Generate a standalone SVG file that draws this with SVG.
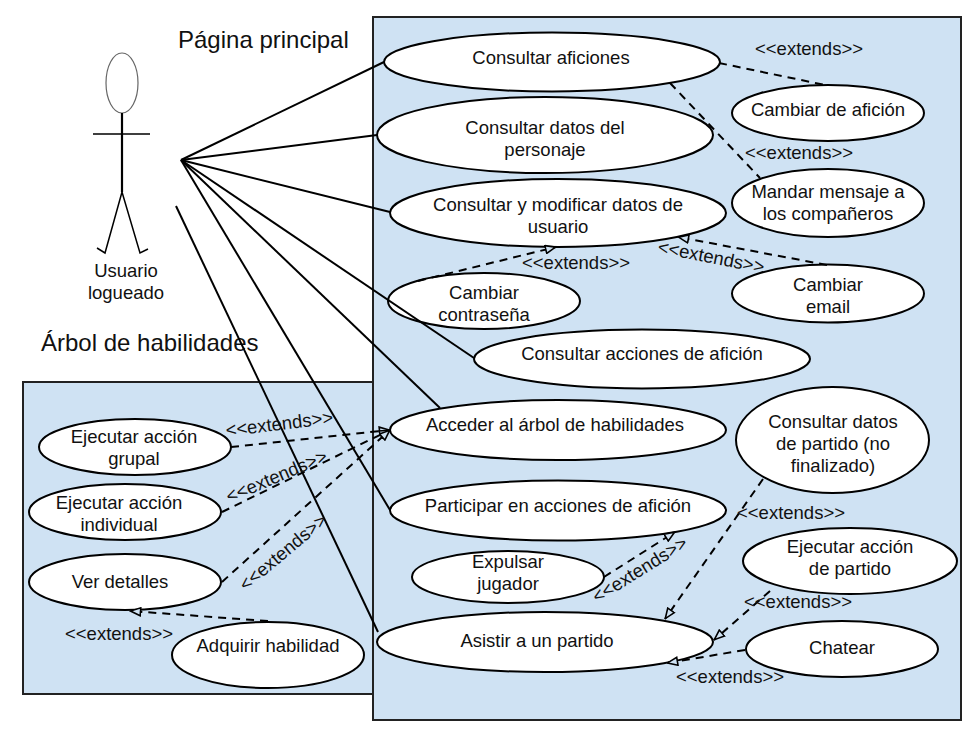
<svg xmlns="http://www.w3.org/2000/svg" width="971" height="738" viewBox="0 0 971 738">
<style>
text{font-family:"Liberation Sans",Arial,sans-serif;font-size:18.5px;fill:#111;text-anchor:middle}
.t{font-size:24px;text-anchor:start}
.p{fill:#cfe2f3;stroke:#222;stroke-width:2}
.u ellipse{fill:#fff;stroke:#000;stroke-width:2}
.s line{stroke:#000;stroke-width:2}
.d line{stroke:#000;stroke-width:2;stroke-dasharray:8 6;marker-end:url(#a)}
.d line.n{marker-end:none}
</style>
<defs><marker id="a" viewBox="0 0 12 10" refX="11.5" refY="5" markerWidth="12" markerHeight="10" markerUnits="userSpaceOnUse" orient="auto"><path d="M1 1L11 5L1 9Z" fill="#cfe2f3" stroke="#000" stroke-width="1.6"/></marker></defs>
<rect class="p" x="23" y="382" width="350" height="312"/>
<rect class="p" x="373" y="17" width="588" height="703"/>
<text class="t" x="178" y="48">Página principal</text>
<text class="t" x="41" y="351">Árbol de habilidades</text>
<g id="actor"><ellipse cx="122" cy="83" rx="16" ry="30" fill="#fff" stroke="#666" stroke-width="1.2"/>
<path d="M122 113V192M93 134H150M97 248L105 253L122 192L140 253L148 249" fill="none" stroke="#000" stroke-width="1.5"/>
<path d="M122 113V192" stroke="#000" stroke-width="2.2"/>
<text x="126" y="277">Usuario</text><text x="126" y="299">logueado</text></g>
<g class="u">
<g id="n1"><ellipse cx="552" cy="62" rx="168" ry="29.5"/><text x="551" y="64">Consultar aficiones</text></g>
<g id="n2"><ellipse cx="545" cy="135" rx="168" ry="38"/><text x="545" y="134">Consultar datos del</text><text x="545" y="156">personaje</text></g>
<g id="n3"><ellipse cx="558" cy="213" rx="168" ry="34"/><text x="558" y="211">Consultar y modificar datos de</text><text x="558" y="233">usuario</text></g>
<g id="n4"><ellipse cx="484" cy="301" rx="96" ry="28"/><text x="484" y="299">Cambiar</text><text x="484" y="321">contraseña</text></g>
<g id="n5"><ellipse cx="642" cy="359" rx="168" ry="29.5"/><text x="642" y="360">Consultar acciones de afición</text></g>
<g id="n6"><ellipse cx="558" cy="430" rx="168" ry="30"/><text x="555" y="431">Acceder al árbol de habilidades</text></g>
<g id="n7"><ellipse cx="558" cy="510.5" rx="168" ry="30"/><text x="558" y="512">Participar en acciones de afición</text></g>
<g id="n8"><ellipse cx="508" cy="577" rx="96" ry="26"/><text x="508" y="568">Expulsar</text><text x="508" y="590">jugador</text></g>
<g id="n9"><ellipse cx="545" cy="642" rx="168" ry="30"/><text x="537" y="647">Asistir a un partido</text></g>
<g id="n10"><ellipse cx="828" cy="113" rx="96" ry="28"/><text x="828" y="116">Cambiar de afición</text></g>
<g id="n11"><ellipse cx="828" cy="203" rx="96" ry="34"/><text x="828" y="198">Mandar mensaje a</text><text x="828" y="220">los compañeros</text></g>
<g id="n12"><ellipse cx="828" cy="293.5" rx="96" ry="29"/><text x="828" y="291">Cambiar</text><text x="828" y="313">email</text></g>
<g id="n13"><ellipse cx="832.5" cy="440" rx="96.5" ry="53"/><text x="833" y="428">Consultar datos</text><text x="833" y="450">de partido (no</text><text x="833" y="472">finalizado)</text></g>
<g id="n14"><ellipse cx="850" cy="561" rx="107" ry="33"/><text x="850" y="553">Ejecutar acción</text><text x="850" y="575">de partido</text></g>
<g id="n15"><ellipse cx="842" cy="649" rx="96" ry="28"/><text x="842" y="654">Chatear</text></g>
<g id="n16"><ellipse cx="135" cy="447" rx="96" ry="28"/><text x="134" y="443">Ejecutar acción</text><text x="134" y="465">grupal</text></g>
<g id="n17"><ellipse cx="125" cy="512" rx="96" ry="28"/><text x="119" y="509">Ejecutar acción</text><text x="119" y="531">individual</text></g>
<g id="n18"><ellipse cx="125" cy="582" rx="96" ry="28"/><text x="120" y="588">Ver detalles</text></g>
<g id="n19"><ellipse cx="268" cy="655" rx="96" ry="33"/><text x="268" y="652">Adquirir habilidad</text></g>
</g>
<g id="connectors">
<g class="s">
<line x1="181" y1="160" x2="384" y2="62"/>
<line x1="181" y1="160" x2="377" y2="135"/>
<line x1="181" y1="160" x2="390" y2="212"/>
<line x1="181" y1="160" x2="474" y2="358"/>
<line x1="181" y1="160" x2="440" y2="408"/>
<line x1="181" y1="160" x2="390" y2="510"/>
<line x1="176" y1="206" x2="378" y2="632"/>
</g>
<g class="d">
<line class="n" x1="719" y1="63" x2="825" y2="85"/>
<line class="n" x1="670" y1="83" x2="760" y2="178"/>
<line x1="418" y1="281" x2="556" y2="247"/>
<line x1="827" y1="265" x2="678" y2="237"/>
<line x1="231" y1="447" x2="390" y2="430"/>
<line x1="222" y1="512" x2="390" y2="430"/>
<line x1="222" y1="582" x2="390" y2="430"/>
<line x1="268" y1="621" x2="130" y2="611"/>
<line x1="604" y1="577" x2="675" y2="532"/>
<line x1="763" y1="479" x2="665" y2="619"/>
<line x1="770" y1="591" x2="714" y2="640"/>
<line x1="745" y1="650" x2="667" y2="663"/>
</g>
</g>
<g id="labels">
<text x="809" y="55">&lt;&lt;extends&gt;&gt;</text>
<text x="799" y="159">&lt;&lt;extends&gt;&gt;</text>
<text x="576" y="269">&lt;&lt;extends&gt;&gt;</text>
<text transform="translate(710 263) rotate(11)">&lt;&lt;extends&gt;&gt;</text>
<text transform="translate(280 430) rotate(-7)">&lt;&lt;extends&gt;&gt;</text>
<text transform="translate(279 482) rotate(-23)">&lt;&lt;extends&gt;&gt;</text>
<text transform="translate(287 557) rotate(-40)">&lt;&lt;extends&gt;&gt;</text>
<text x="119" y="640">&lt;&lt;extends&gt;&gt;</text>
<text transform="translate(643 575) rotate(-32)">&lt;&lt;extends&gt;&gt;</text>
<text x="791" y="519">&lt;&lt;extends&gt;&gt;</text>
<text x="798" y="608">&lt;&lt;extends&gt;&gt;</text>
<text x="730" y="683">&lt;&lt;extends&gt;&gt;</text>
</g>
</svg>
